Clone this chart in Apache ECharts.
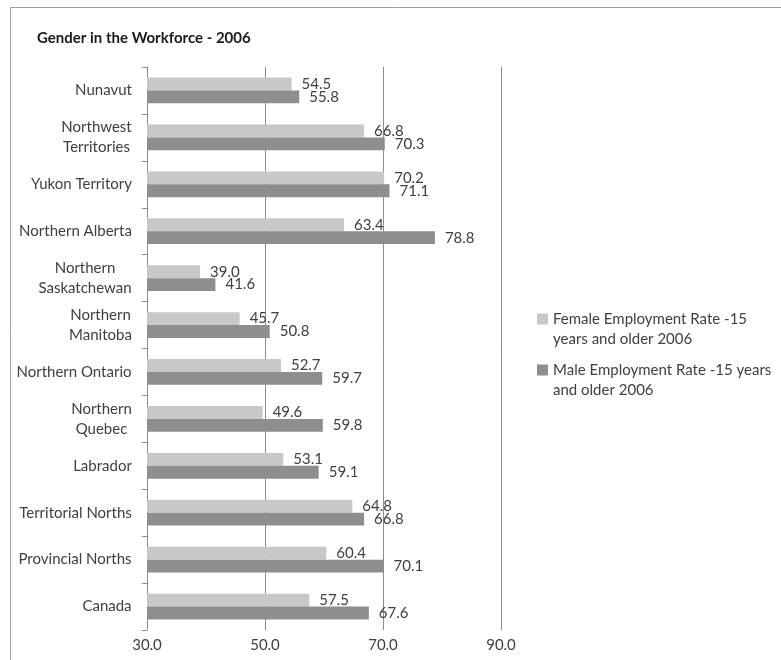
<!DOCTYPE html>
<html>
<head>
<meta charset="utf-8">
<script src="https://cdn.jsdelivr.net/npm/echarts@6/dist/echarts.min.js"></script>
<style>
  html, body { margin: 0; padding: 0; background: #fff; }
  #chart { width: 781px; height: 660px; }
</style>
</head>
<body>
<div id="chart"></div>
<script>
// Regions, top to bottom
const regions = [
  'Nunavut', 'Northwest\nTerritories', 'Yukon Territory', 'Northern Alberta',
  'Northern\nSaskatchewan', 'Northern\nManitoba', 'Northern Ontario', 'Northern\nQuebec',
  'Labrador', 'Territorial Norths', 'Provincial Norths', 'Canada'
];
// Employment rates (%), population 15 years and older, 2006
const femaleRate = [54.5, 66.8, 70.2, 63.4, 39.0, 45.7, 52.7, 49.6, 53.1, 64.8, 60.4, 57.5];
const maleRate   = [55.8, 70.3, 71.1, 78.8, 41.6, 50.8, 59.7, 59.8, 59.1, 66.8, 70.1, 67.6];
const xTicks = [30, 50, 70, 90];

const femaleName = 'Female Employment Rate -15\nyears and older 2006';
const maleName = 'Male Employment Rate -15 years\nand older 2006';

const FONT = 'Lato, "Open Sans", sans-serif';
const FS = 15;
const TEXT = '#404040';

// Measure label lines so wrapped names can be centred line by line
const ctx = document.createElement('canvas').getContext('2d');
ctx.font = FS + 'px ' + FONT;
const rich = {};
regions.forEach((name, i) => {
  const w = Math.max(...name.split('\n').map(s => ctx.measureText(s).width));
  rich['r' + i] = { width: Math.ceil(w), align: 'center', fontFamily: FONT, fontSize: FS, color: TEXT, lineHeight: 20 };
});

const chart = echarts.init(document.getElementById('chart'));

const valueLabel = {
  show: true,
  position: 'right',
  distance: 10,
  color: TEXT,
  fontFamily: FONT,
  fontSize: FS,
  formatter: p => p.value.toFixed(1)
};

// Legend entry; a blank leading line keeps the swatch level with the first text line
const legendItem = (name, top) => ({
  orient: 'vertical',
  left: 537,
  top: top,
  padding: 0,
  itemWidth: 11,
  itemHeight: 11,
  itemGap: 0,
  icon: 'rect',
  textStyle: { fontFamily: FONT, fontSize: FS, color: TEXT, lineHeight: 20 },
  formatter: n => '\n' + n,
  data: [name]
});

chart.setOption({
  animation: false,
  backgroundColor: '#fff',
  title: {
    text: 'Gender in the Workforce - 2006',
    left: 32,
    top: 26,
    textStyle: { fontFamily: FONT, fontSize: 15, fontWeight: 'bold', color: '#1a1a1a' }
  },
  graphic: [{
    type: 'rect',
    shape: { x: 10.5, y: 7.5, width: 900, height: 800 },
    style: { fill: null, stroke: '#a0a0a0', lineWidth: 1 },
    silent: true
  }],
  legend: [legendItem(femaleName, 289), legendItem(maleName, 340)],
  grid: { left: 147, right: 280, top: 67, bottom: 30, containLabel: false },
  xAxis: {
    type: 'value',
    min: xTicks[0],
    max: xTicks[xTicks.length - 1],
    interval: 20,
    axisLine: { show: false },
    axisTick: { show: false },
    splitLine: { show: true, lineStyle: { color: '#8c8c8c', width: 1 } },
    axisLabel: {
      color: TEXT,
      fontFamily: FONT,
      fontSize: FS,
      margin: 8,
      formatter: v => v.toFixed(1)
    }
  },
  yAxis: {
    type: 'category',
    inverse: true,
    data: regions,
    axisLine: { show: true, lineStyle: { color: '#8c8c8c' } },
    axisTick: { show: true, length: 5, lineStyle: { color: '#8c8c8c' } },
    axisLabel: {
      color: TEXT,
      fontFamily: FONT,
      fontSize: FS,
      margin: 15,
      lineHeight: 20,
      formatter: (v, i) => v.split('\n').map(s => '{r' + i + '|' + s + '}').join('\n'),
      rich: rich
    }
  },
  series: [
    {
      name: femaleName,
      type: 'bar',
      data: femaleRate,
      barGap: '0%',
      barCategoryGap: '45%',
      itemStyle: { color: '#c8c8c8' },
      label: valueLabel
    },
    {
      name: maleName,
      type: 'bar',
      data: maleRate,
      itemStyle: { color: '#8e8e90' },
      label: valueLabel
    }
  ]
});
</script>
</body>
</html>
